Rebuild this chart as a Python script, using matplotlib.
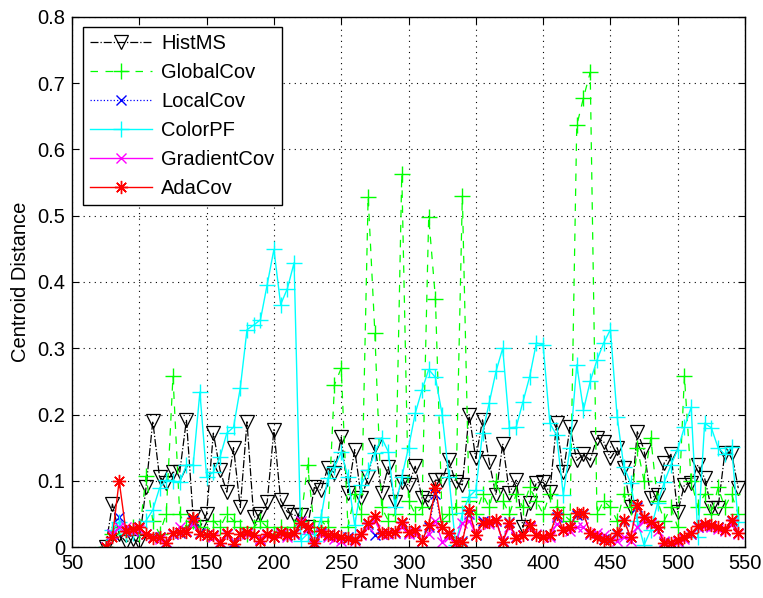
import matplotlib
matplotlib.use('Agg')
import matplotlib.pyplot as plt

plt.rcParams['font.family'] = ['Liberation Sans', 'DejaVu Sans']

# frame numbers (every 5th frame)
frames = [75, 80, 85, 90, 95, 100, 105, 110, 115, 120,
          125, 130, 135, 140, 145, 150, 155, 160, 165, 170,
          175, 180, 185, 190, 195, 200, 205, 210, 215, 220,
          225, 230, 235, 240, 245, 250, 255, 260, 265, 270,
          275, 280, 285, 290, 295, 300, 305, 310, 315, 320,
          325, 330, 335, 340, 345, 350, 355, 360, 365, 370,
          375, 380, 385, 390, 395, 400, 405, 410, 415, 420,
          425, 430, 435, 440, 445, 450, 455, 460, 465, 470,
          475, 480, 485, 490, 495, 500, 505, 510, 515, 520,
          525, 530, 535, 540, 545]

hist_ms = [0.0, 0.065, 0.02, 0.008, 0.012, 0.008, 0.09, 0.19, 0.106, 0.097,
           0.113, 0.113, 0.192, 0.045, 0.03, 0.05, 0.172, 0.116, 0.083, 0.15,
           0.06, 0.189, 0.045, 0.05, 0.068, 0.177, 0.071, 0.053, 0.048, 0.048,
           0.03, 0.09, 0.086, 0.12, 0.112, 0.166, 0.082, 0.147, 0.074, 0.106,
           0.154, 0.082, 0.121, 0.068, 0.098, 0.094, 0.122, 0.074, 0.068, 0.101,
           0.101, 0.131, 0.098, 0.094, 0.2, 0.134, 0.192, 0.128, 0.079, 0.156,
           0.082, 0.101, 0.03, 0.066, 0.097, 0.098, 0.083, 0.187, 0.113, 0.181,
           0.131, 0.14, 0.131, 0.165, 0.159, 0.134, 0.15, 0.12, 0.06, 0.174,
           0.147, 0.074, 0.079, 0.127, 0.14, 0.053, 0.094, 0.097, 0.124, 0.104,
           0.059, 0.059, 0.142, 0.142, 0.089]

global_cov = [0.0, 0.02, 0.03, 0.02, 0.03, 0.02, 0.107, 0.04, 0.02, 0.05,
              0.258, 0.05, 0.03, 0.04, 0.03, 0.02, 0.04, 0.03, 0.05, 0.04,
              0.03, 0.02, 0.03, 0.04, 0.03, 0.02, 0.03, 0.02, 0.03, 0.04,
              0.124, 0.03, 0.04, 0.03, 0.245, 0.27, 0.03, 0.08, 0.05, 0.528,
              0.323, 0.06, 0.04, 0.05, 0.563, 0.07, 0.05, 0.06, 0.498, 0.375,
              0.04, 0.05, 0.06, 0.53, 0.07, 0.05, 0.08, 0.06, 0.1, 0.07,
              0.05, 0.08, 0.06, 0.09, 0.07, 0.05, 0.08, 0.06, 0.05, 0.04,
              0.636, 0.678, 0.716, 0.05, 0.07, 0.06, 0.04, 0.08, 0.06, 0.15,
              0.1, 0.165, 0.07, 0.04, 0.06, 0.03, 0.258, 0.1, 0.06, 0.08,
              0.05, 0.09, 0.06, 0.08, 0.05]

local_cov = [0.0, 0.02, 0.045, 0.025, 0.025, 0.03, 0.02, 0.015, 0.015, 0.008,
             0.02, 0.022, 0.025, 0.04, 0.022, 0.018, 0.018, 0.008, 0.02, 0.008,
             0.02, 0.022, 0.018, 0.012, 0.02, 0.015, 0.022, 0.018, 0.02, 0.035,
             0.03, 0.008, 0.022, 0.018, 0.018, 0.015, 0.015, 0.012, 0.02, 0.035,
             0.018, 0.02, 0.022, 0.022, 0.036, 0.022, 0.025, 0.01, 0.03, 0.08,
             0.03, 0.02, 0.008, 0.01, 0.05, 0.018, 0.04, 0.038, 0.04, 0.01,
             0.038, 0.015, 0.018, 0.03, 0.018, 0.016, 0.018, 0.045, 0.026, 0.03,
             0.048, 0.05, 0.02, 0.015, 0.012, 0.012, 0.02, 0.04, 0.015, 0.06,
             0.044, 0.036, 0.03, 0.008, 0.006, 0.01, 0.015, 0.02, 0.03, 0.034,
             0.032, 0.03, 0.026, 0.04, 0.022]

color_pf = [0.0, 0.026, 0.038, 0.02, 0.022, 0.03, 0.04, 0.056, 0.089, 0.101,
            0.1, 0.098, 0.124, 0.124, 0.234, 0.106, 0.113, 0.136, 0.172, 0.181,
            0.24, 0.328, 0.335, 0.343, 0.396, 0.449, 0.366, 0.39, 0.429, 0.01,
            0.02, 0.01, 0.045, 0.104, 0.121, 0.143, 0.106, 0.033, 0.094, 0.116,
            0.142, 0.165, 0.144, 0.06, 0.106, 0.15, 0.202, 0.237, 0.268, 0.256,
            0.2, 0.106, 0.003, 0.051, 0.076, 0.086, 0.172, 0.218, 0.265, 0.3,
            0.18, 0.181, 0.219, 0.257, 0.308, 0.305, 0.187, 0.169, 0.079, 0.15,
            0.275, 0.207, 0.25, 0.282, 0.308, 0.328, 0.197, 0.121, 0.097, 0.04,
            0.003, 0.026, 0.066, 0.098, 0.124, 0.147, 0.181, 0.211, 0.015, 0.187,
            0.18, 0.15, 0.14, 0.151, 0.038]

gradient_cov = [0.0, 0.02, 0.03, 0.03, 0.025, 0.028, 0.02, 0.015, 0.012, 0.008,
                0.02, 0.03, 0.025, 0.035, 0.02, 0.018, 0.015, 0.008, 0.02, 0.006,
                0.02, 0.02, 0.018, 0.012, 0.018, 0.015, 0.02, 0.016, 0.02, 0.04,
                0.028, 0.004, 0.02, 0.016, 0.012, 0.01, 0.012, 0.01, 0.018, 0.03,
                0.04, 0.02, 0.02, 0.022, 0.03, 0.02, 0.022, 0.01, 0.02, 0.04,
                0.008, 0.015, 0.005, 0.036, 0.04, 0.02, 0.036, 0.035, 0.04, 0.01,
                0.03, 0.016, 0.018, 0.03, 0.02, 0.016, 0.015, 0.035, 0.028, 0.025,
                0.03, 0.03, 0.02, 0.022, 0.018, 0.012, 0.01, 0.015, 0.01, 0.03,
                0.04, 0.035, 0.025, 0.01, 0.005, 0.008, 0.012, 0.02, 0.03, 0.032,
                0.03, 0.028, 0.025, 0.035, 0.02]

ada_cov = [0.0, 0.015, 0.10, 0.025, 0.027, 0.03, 0.02, 0.014, 0.015, 0.006,
           0.022, 0.023, 0.023, 0.044, 0.02, 0.018, 0.018, 0.006, 0.022, 0.005,
           0.02, 0.023, 0.018, 0.01, 0.02, 0.015, 0.023, 0.018, 0.021, 0.036,
           0.03, 0.006, 0.024, 0.018, 0.018, 0.015, 0.014, 0.011, 0.02, 0.036,
           0.047, 0.021, 0.021, 0.023, 0.038, 0.023, 0.026, 0.009, 0.033, 0.089,
           0.03, 0.021, 0.008, 0.008, 0.056, 0.018, 0.036, 0.038, 0.041, 0.008,
           0.036, 0.014, 0.018, 0.033, 0.018, 0.016, 0.018, 0.05, 0.026, 0.03,
           0.051, 0.051, 0.021, 0.015, 0.011, 0.011, 0.021, 0.041, 0.015, 0.063,
           0.045, 0.038, 0.03, 0.006, 0.006, 0.011, 0.015, 0.021, 0.032, 0.035,
           0.033, 0.03, 0.026, 0.041, 0.021]

fs = 14.5

fig = plt.figure(figsize=(7.63, 5.98), dpi=100)
ax = fig.add_axes([0.0944, 0.085, 0.882, 0.887])

ax.plot(frames, hist_ms, color='k', linestyle='-.', linewidth=0.9,
        marker='v', markersize=10.5, markerfacecolor='none', markeredgecolor='k',
        markeredgewidth=0.9, label='HistMS')
ax.plot(frames, global_cov, color=(0, 1, 0), linestyle=(0, (6, 6)), linewidth=0.9,
        marker='+', markersize=11, markeredgewidth=1, label='GlobalCov')
ax.plot(frames, local_cov, color='b', linestyle=':', linewidth=0.9,
        marker='x', markersize=7, markeredgewidth=1, label='LocalCov')
ax.plot(frames, color_pf, color=(0, 1, 1), linestyle='-', linewidth=1,
        marker='+', markersize=11, markeredgewidth=1, label='ColorPF')
ax.plot(frames, gradient_cov, color=(1, 0, 1), linestyle='-', linewidth=1,
        marker='x', markersize=7, markeredgewidth=1, label='GradientCov')
ax.plot(frames, ada_cov, color='r', linestyle='-', linewidth=1,
        marker=(8, 2, 0), markersize=9.5, markeredgewidth=1, label='AdaCov')

ax.set_xlim(50, 550)
ax.set_ylim(0, 0.8)
ax.set_xticks(range(50, 551, 50))
ax.set_yticks([0, 0.1, 0.2, 0.3, 0.4, 0.5, 0.6, 0.7, 0.8])
ax.set_yticklabels(['0', '0.1', '0.2', '0.3', '0.4', '0.5', '0.6', '0.7', '0.8'])
ax.tick_params(direction='in', top=True, right=True, length=5, labelsize=fs, width=0.8)
ax.tick_params(axis='x', pad=5)
ax.tick_params(axis='y', pad=5)
ax.grid(True, color='k', linestyle=(0, (1, 4)), linewidth=0.8)
for s in ax.spines.values():
    s.set_linewidth(1)
ax.set_xlabel('Frame Number', fontsize=fs, labelpad=0)
ax.set_ylabel('Centroid Distance', fontsize=fs, labelpad=5)

leg = ax.legend(loc='upper left', bbox_to_anchor=(0.016, 0.981), borderaxespad=0,
                fontsize=fs, handlelength=3.1, handletextpad=0.45, borderpad=0.35,
                labelspacing=0.5, fancybox=False, framealpha=1)
leg.get_frame().set_edgecolor('k')
leg.get_frame().set_linewidth(1)

plt.savefig('out.png', dpi=100)
